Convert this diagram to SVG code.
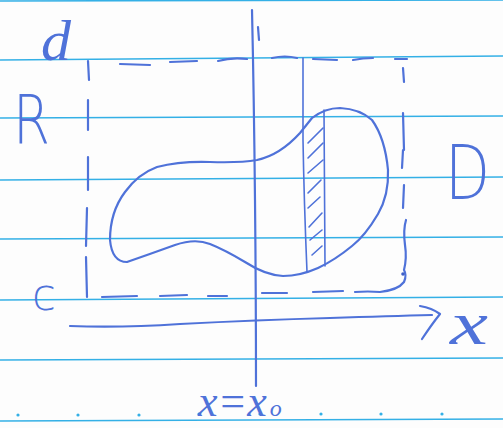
<svg xmlns="http://www.w3.org/2000/svg" width="503" height="428" viewBox="0 0 503 428">
<style>
.rule{stroke:#34b0e6;stroke-width:1.6;fill:none}
.pen{stroke:#4f72d9;stroke-width:2.2;fill:none;stroke-linecap:round;stroke-linejoin:round}
.thin{stroke:#4f72d9;stroke-width:1.6;fill:none;stroke-linecap:round}
.lbl{fill:#4f72d9;font-family:"Liberation Serif",serif;font-style:italic}
.lbs{fill:#4f72d9;font-family:"DejaVu Sans","Liberation Sans",sans-serif;font-weight:200}
.dot{fill:#34b0e6}
</style>
<rect width="503" height="428" fill="#fdfdfd"/>
<g id="paper">
<line class="rule" x1="0" y1="1" x2="503" y2="0"/>
<line class="rule" x1="0" y1="60" x2="503" y2="56"/>
<line class="rule" x1="0" y1="118" x2="503" y2="116"/>
<line class="rule" x1="0" y1="180" x2="503" y2="177"/>
<line class="rule" x1="0" y1="239" x2="503" y2="237"/>
<line class="rule" x1="0" y1="300" x2="503" y2="297"/>
<line class="rule" x1="0" y1="360" x2="503" y2="358"/>
<line class="rule" x1="0" y1="421" x2="503" y2="419" stroke-width="2.4"/>
<g class="dot">
<circle cx="18" cy="415" r="1.6"/><circle cx="78" cy="415" r="1.6"/><circle cx="139" cy="415" r="1.6"/><circle cx="199" cy="414" r="1.6"/><circle cx="260" cy="414" r="1.6"/><circle cx="321" cy="414" r="1.6"/><circle cx="381" cy="414" r="1.6"/><circle cx="442" cy="414" r="1.6"/>
</g>
</g>
<g id="rectangle">
<path class="pen" d="M120 64 L150 65 M170 62 L197 61 M218 61 Q232 57 247 59 M272 58 Q285 55 297 58 M313 59 L337 60 M353 60 Q363 58 373 58 M395 59 L407 59"/>
<path class="pen" d="M88 61 L89 80 M88 100 L88 130 M88 157 L88 190 M87 208 L86 246 M86 257 L87 297"/>
<path class="pen" d="M102 297 L137 296 M160 296 L187 295 M208 296 L227 296 M262 293 L287 293 M313 292 L343 291 M355 292 Q368 291 380 292 Q398 290 404 282 Q407 275 404 270 Q407 258 405 245 Q403 230 406 220 M403 208 L404 185 M402 168 L403 150 M403 113 L404 150 M403 68 L404 82"/>
<circle cx="403" cy="274" r="1.8" fill="#3e5fc6"/>
</g>
<g id="region-D">
<path class="pen" d="M312 118 Q325 108 340 108 Q360 109 372 120 Q385 138 388 170 Q389 195 378 214 Q365 236 352 246 Q335 260 318 268 Q300 276 283 276 Q265 275 245 262 Q225 250 210 244 Q195 238 175 245 Q150 254 127 262 Q112 262 110 240 Q110 212 125 192 Q138 174 157 167 Q180 161 210 162 Q240 163 257 160 Q280 155 300 133 Z"/>
</g>
<g id="strip">
<path class="thin" d="M303 58 L303 140 Q304 200 307 272"/>
<path class="thin" d="M324 110 L325 266"/>
<path class="thin" d="M308 143 L323 128 M308 158 L323 143 M308 173 L323 160 M308 193 L321 180 M308 208 L320 197 M309 227 L322 213 M310 240 L322 230 M312 255 L322 246"/>
</g>
<g id="axes">
<path class="pen" d="M252 10 Q254 100 255 200 Q256 300 256 386"/>
<path class="pen" d="M258 27 L259 40" stroke-width="1.6"/>
<path class="pen" d="M70 326 Q120 328 180 324 Q257 320 330 318 Q390 316 432 315"/>
<path class="pen" d="M420 306 Q432 308 440 314 Q432 324 422 339"/>
</g>
<g id="labels">
<text class="lbl" x="41" y="60" font-size="58" textLength="30" lengthAdjust="spacingAndGlyphs">d</text>
<text class="lbs" x="13" y="143" font-size="68" textLength="37" lengthAdjust="spacingAndGlyphs">R</text>
<text class="lbs" x="445" y="199" font-size="74" textLength="45" lengthAdjust="spacingAndGlyphs">D</text>
<text class="lbs" x="32" y="310" font-size="44" textLength="24" lengthAdjust="spacingAndGlyphs">c</text>
<text class="lbl" x="450" y="344" font-size="62" textLength="38" lengthAdjust="spacingAndGlyphs">x</text>
<text class="lbl" x="198" y="416" font-size="44">x=x<tspan font-size="24" dx="3">o</tspan></text>
</g>
</svg>
